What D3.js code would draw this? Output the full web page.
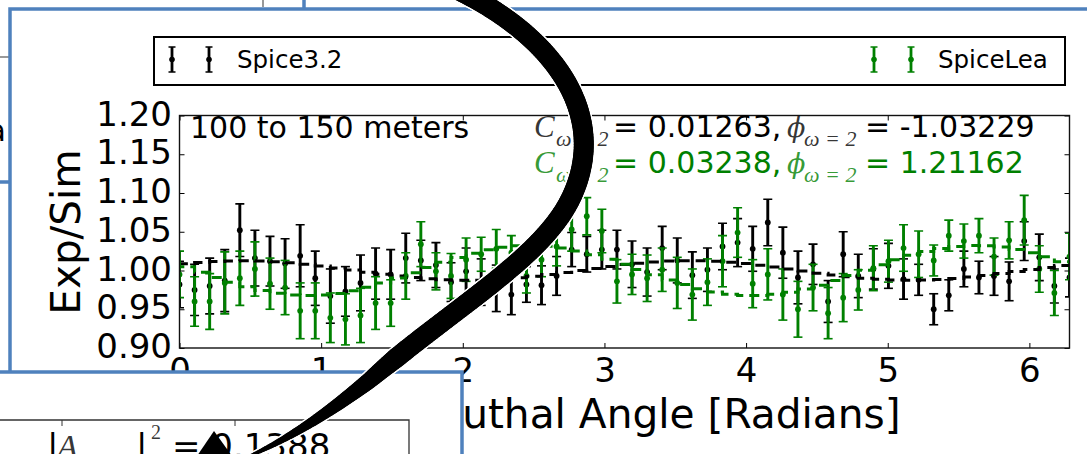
<!DOCTYPE html>
<html><head><meta charset="utf-8">
<script src="https://cdn.jsdelivr.net/npm/d3@7"></script>
<style>body{margin:0;background:#fff;overflow:hidden} svg{display:block}</style>
</head><body>
<svg id="c" width="1087" height="454"></svg>
<script>
// ---------------- data ----------------
const angles = [0.0000,0.1065,0.2130,0.3195,0.4259,0.5324,0.6389,0.7454,0.8519,0.9584,
  1.0649,1.1714,1.2779,1.3843,1.4908,1.5973,1.7038,1.8103,1.9168,2.0233,
  2.1298,2.2363,2.3428,2.4492,2.5557,2.6622,2.7687,2.8752,2.9817,3.0882,
  3.1947,3.3012,3.4077,3.5141,3.6206,3.7271,3.8336,3.9401,4.0466,4.1531,
  4.2596,4.3661,4.4726,4.5790,4.6855,4.7920,4.8985,5.0050,5.1115,5.2180,
  5.3245,5.4310,5.5375,5.6439,5.7504,5.8569,5.9634,6.0699,6.1764,6.2832];
const spice32 = [0.982,0.975,0.980,0.987,1.052,1.016,1.012,1.009,1.019,0.990,
  0.967,0.973,0.984,0.996,0.995,1.016,1.013,1.007,0.985,0.999,
  0.985,0.977,0.969,0.982,0.981,0.993,1.027,1.021,1.027,1.027,
  1.008,0.998,1.029,1.013,0.994,1.001,1.031,1.036,1.028,1.062,
  1.023,0.991,1.008,0.960,1.021,0.993,1.002,1.006,0.989,0.988,
  0.950,0.968,1.002,0.991,0.993,0.986,1.038,1.017,0.980,0.991];
const spice32Err = [0.030,0.033,0.036,0.040,0.034,0.036,0.032,0.032,0.040,0.035,
  0.035,0.032,0.036,0.033,0.032,0.032,0.026,0.029,0.025,0.030,
  0.030,0.030,0.026,0.023,0.025,0.025,0.022,0.023,0.025,0.025,
  0.030,0.031,0.028,0.029,0.030,0.028,0.030,0.031,0.029,0.030,
  0.033,0.034,0.026,0.027,0.029,0.028,0.026,0.029,0.026,0.020,
  0.020,0.020,0.023,0.021,0.025,0.025,0.025,0.030,0.022,0.025];
const spiceLea = [0.995,0.960,0.960,0.984,0.990,1.002,0.983,0.978,0.948,0.948,
  0.939,0.937,0.942,0.958,0.958,0.993,1.034,0.999,0.993,1.014,
  1.021,1.028,1.023,0.993,1.014,1.031,1.053,1.070,1.051,0.986,
  0.995,0.990,1.001,0.984,0.969,0.985,1.012,1.049,0.983,0.995,
  0.969,0.950,0.978,0.945,0.965,0.975,1.003,1.012,1.029,1.021,
  1.013,1.045,1.038,1.045,1.018,1.039,1.065,1.002,0.971,1.018];
const spiceLeaErr = [0.030,0.032,0.036,0.040,0.035,0.035,0.033,0.035,0.036,0.036,
  0.032,0.033,0.035,0.034,0.030,0.030,0.029,0.024,0.029,0.028,
  0.022,0.025,0.022,0.022,0.022,0.025,0.028,0.024,0.028,0.028,
  0.026,0.030,0.028,0.033,0.033,0.030,0.033,0.032,0.031,0.033,
  0.033,0.036,0.030,0.033,0.031,0.026,0.029,0.027,0.030,0.030,
  0.020,0.020,0.022,0.022,0.024,0.024,0.032,0.030,0.029,0.030];
const fit32 = [1.0065,1.0086,1.0104,1.0117,1.0124,1.0126,1.0123,1.0113,1.0099,1.0080,
  1.0058,1.0032,1.0006,0.9979,0.9953,0.9930,0.9909,0.9892,0.9881,0.9875,
  0.9874,0.9879,0.9890,0.9906,0.9926,0.9949,0.9974,1.0001,1.0027,1.0053,
  1.0076,1.0095,1.0111,1.0121,1.0126,1.0125,1.0119,1.0107,1.0090,1.0069,
  1.0045,1.0019,0.9993,0.9966,0.9941,0.9919,0.9900,0.9886,0.9877,0.9874,
  0.9876,0.9884,0.9897,0.9915,0.9936,0.9961,0.9987,1.0014,1.0040,1.0065];
const fitLea = [1.0114,1.0047,0.9978,0.9911,0.9847,0.9790,0.9742,0.9707,0.9684,0.9676,
  0.9683,0.9704,0.9739,0.9784,0.9839,0.9902,0.9970,1.0039,1.0106,1.0168,
  1.0223,1.0267,1.0299,1.0319,1.0324,1.0314,1.0289,1.0252,1.0203,1.0145,
  1.0081,1.0013,0.9944,0.9878,0.9818,0.9765,0.9723,0.9694,0.9678,0.9678,
  0.9692,0.9720,0.9760,0.9811,0.9870,0.9935,1.0004,1.0073,1.0138,1.0196,
  1.0245,1.0285,1.0311,1.0323,1.0320,1.0303,1.0272,1.0229,1.0176,1.0114];
const xTicks = [0,1,2,3,4,5,6];
const yTicks = [0.90,0.95,1.00,1.05,1.10,1.15,1.20];
const seriesNames = ["Spice3.2","SpiceLea"];
const seriesColors = ["#000000","#008000"];
const rangeLabel = "100 to 150 meters";
const fitC = ["0.01263","0.03238"];
const fitPhi = ["-1.03229","1.21162"];
const xLabel = "Azimuthal Angle [Radians]";
const yLabel = "Exp/Sim";
const boxValue = "0.1388";

// ---------------- drawing ----------------
const svg = d3.select("#c");
const BLUE = "#4f81bd";
const SANS = "'DejaVu Sans', sans-serif";
const SERIF = "'DejaVu Serif', 'Liberation Serif', serif";

// fragments of panels behind
svg.append("line").attr("x1",263).attr("x2",263).attr("y1",0).attr("y2",7).attr("stroke","#555").attr("stroke-width",1.2);
svg.append("line").attr("x1",304).attr("x2",304).attr("y1",0).attr("y2",10).attr("stroke",BLUE).attr("stroke-width",3.5);
svg.append("line").attr("x1",0).attr("x2",10).attr("y1",57).attr("y2",57).attr("stroke","#555").attr("stroke-width",1.2);
svg.append("line").attr("x1",0).attr("x2",10).attr("y1",182).attr("y2",182).attr("stroke",BLUE).attr("stroke-width",3.5);
svg.append("text").attr("x",6).attr("y",141).attr("text-anchor","end").attr("font-family",SANS).attr("font-size",30).text("a");

// main panel box
svg.append("rect").attr("x",10).attr("y",9).attr("width",1100).attr("height",470)
  .attr("fill","#fff").attr("stroke",BLUE).attr("stroke-width",3.5);

const X0 = 179.5, X1 = 1069.5, Y0 = 348, Y1 = 115.5;
const x = d3.scaleLinear().domain([0, 2*Math.PI]).range([X0, X1]);
const y = d3.scaleLinear().domain([0.90, 1.20]).range([Y0, Y1]);

svg.append("defs").append("clipPath").attr("id","clip")
  .append("rect").attr("x",X0).attr("y",Y1).attr("width",X1-X0).attr("height",Y0-Y1);

const plot = svg.append("g").attr("clip-path","url(#clip)");

function drawErr(vals, errs, color) {
  const recs = angles.map((a,i)=>({a, v: vals[i], e: errs[i]}));
  const g = plot.append("g");
  g.selectAll("line.bar").data(recs).join("line").attr("class","bar")
    .attr("x1",d=>x(d.a)).attr("x2",d=>x(d.a))
    .attr("y1",d=>y(d.v-d.e)).attr("y2",d=>y(d.v+d.e))
    .attr("stroke",color).attr("stroke-width",2.9);
  ["lo","hi"].forEach(k=>{
    g.selectAll("line.cap"+k).data(recs).join("line").attr("class","cap"+k)
      .attr("x1",d=>x(d.a)-4.5).attr("x2",d=>x(d.a)+4.5)
      .attr("y1",d=>y(k==="lo"?d.v-d.e:d.v+d.e)).attr("y2",d=>y(k==="lo"?d.v-d.e:d.v+d.e))
      .attr("stroke",color).attr("stroke-width",1.6);
  });
  g.selectAll("circle").data(recs).join("circle")
    .attr("cx",d=>x(d.a)).attr("cy",d=>y(d.v)).attr("r",2.9).attr("fill",color);
}
function drawFit(vals, color) {
  const line = d3.line().x((d,i)=>x(angles[i])).y(d=>y(d)).curve(d3.curveStepBefore);
  plot.append("path").datum(vals).attr("d",line).attr("fill","none")
    .attr("stroke",color).attr("stroke-width",3).attr("stroke-dasharray","10,6");
}
drawErr(spice32, spice32Err, seriesColors[0]);
drawErr(spiceLea, spiceLeaErr, seriesColors[1]);
drawFit(fit32, seriesColors[0]);
drawFit(fitLea, seriesColors[1]);

// axes
const axL = svg.append("g").attr("transform",`translate(${X0},0)`)
  .call(d3.axisLeft(y).tickValues(yTicks).tickSize(-5).tickSizeOuter(0).tickPadding(7.5).tickFormat(d3.format(".2f")));
const axR = svg.append("g").attr("transform",`translate(${X1},0)`)
  .call(d3.axisRight(y).tickValues(yTicks).tickSize(-5).tickSizeOuter(0).tickFormat(""));
const axB = svg.append("g").attr("transform",`translate(0,${Y0})`)
  .call(d3.axisBottom(x).tickValues(xTicks).tickSize(-5).tickSizeOuter(0).tickPadding(10).tickFormat(d3.format("d")));
const axT = svg.append("g").attr("transform",`translate(0,${Y1})`)
  .call(d3.axisTop(x).tickValues(xTicks).tickSize(-5).tickSizeOuter(0).tickFormat(""));
[axL,axR,axB,axT].forEach(a=>{
  a.select(".domain").remove();
  a.selectAll(".tick line").attr("stroke","#000").attr("stroke-width",1);
  a.selectAll("text").attr("font-family",SANS).attr("font-size",34).attr("fill","#000");
});
axL.selectAll("text").attr("dy","0.28em");
svg.append("rect").attr("x",X0).attr("y",Y1).attr("width",X1-X0).attr("height",Y0-Y1)
  .attr("fill","none").attr("stroke","#111").attr("stroke-width",1.4);

// axis labels
svg.append("text").attr("x",362).attr("y",428).attr("font-family",SANS).attr("font-size",40.7).text(xLabel);
svg.append("text").attr("transform","translate(80,232) rotate(-90)").attr("text-anchor","middle")
  .attr("font-family",SANS).attr("font-size",40.5).text(yLabel);

// in-plot annotations
svg.append("text").attr("x",190).attr("y",138).attr("font-family",SANS).attr("font-size",30).text(rangeLabel);
[0,1].forEach(k=>{
  const base = k===0 ? 137 : 173;
  const col = seriesColors[k];
  const g = svg.append("g").attr("fill",col);
  g.append("text").attr("x",534).attr("y",base).attr("font-family","'Liberation Serif', serif").attr("font-style","italic").attr("font-size",31).attr("fill-opacity",0.8).text("C");
  g.append("text").attr("x",556).attr("y",base+9).attr("font-family","'Liberation Serif', serif").attr("font-style","italic").attr("font-size",22).attr("fill-opacity",0.8).text("ω = 2");
  g.append("text").attr("x",613).attr("y",base).attr("font-family",SANS).attr("font-size",30).text("= " + fitC[k] + ",");
  g.append("text").attr("x",787).attr("y",base).attr("font-family",SERIF).attr("font-style","italic").attr("font-size",27).attr("fill-opacity",0.8).text("ϕ");
  g.append("text").attr("x",804).attr("y",base+9).attr("font-family","'Liberation Serif', serif").attr("font-style","italic").attr("font-size",22).attr("fill-opacity",0.8).text("ω = 2");
  g.append("text").attr("x",865).attr("y",base).attr("font-family",SANS).attr("font-size",30).text("= " + fitPhi[k]);
});

// legend
svg.append("rect").attr("x",154).attr("y",37).attr("width",911).attr("height",48)
  .attr("fill","#fff").attr("stroke","#000").attr("stroke-width",2);
const legendItems = [
  {name: seriesNames[0], color: seriesColors[0], gx: [172,209], tx: 237},
  {name: seriesNames[1], color: seriesColors[1], gx: [874,911], tx: 938}
];
legendItems.forEach(it=>{
  const g = svg.append("g");
  it.gx.forEach(gx=>{
    g.append("line").attr("x1",gx).attr("x2",gx).attr("y1",47).attr("y2",72).attr("stroke",it.color).attr("stroke-width",2.8);
    g.append("line").attr("x1",gx-3.5).attr("x2",gx+3.5).attr("y1",47).attr("y2",47).attr("stroke",it.color).attr("stroke-width",1.5);
    g.append("line").attr("x1",gx-3.5).attr("x2",gx+3.5).attr("y1",72).attr("y2",72).attr("stroke",it.color).attr("stroke-width",1.5);
    g.append("circle").attr("cx",gx).attr("cy",59.5).attr("r",2.8).attr("fill",it.color);
  });
  g.append("text").attr("x",it.tx).attr("y",68).attr("font-family",SANS).attr("font-size",24.5).attr("fill","#000").text(it.name);
});

// lower-left overlapping panel
svg.append("rect").attr("x",-10).attr("y",372).attr("width",472).attr("height",100)
  .attr("fill","#fff").attr("stroke",BLUE).attr("stroke-width",3.5);
svg.append("path").attr("d","M-5,420 H409 V460").attr("fill","none").attr("stroke","#333").attr("stroke-width",1.3);
[62,235].forEach(tx=>svg.append("line").attr("x1",tx).attr("x2",tx).attr("y1",420).attr("y2",426).attr("stroke","#333").attr("stroke-width",1));
const bx = svg.append("g").attr("fill","#000");
bx.append("text").attr("x",47).attr("y",458).attr("font-family",SANS).attr("font-size",34).text("|");
bx.append("text").attr("x",57).attr("y",458).attr("font-family","'Liberation Serif', serif").attr("font-style","italic").attr("font-size",34).attr("fill-opacity",0.8).text("A");
bx.append("text").attr("x",136).attr("y",458).attr("font-family",SANS).attr("font-size",34).text("|");
bx.append("text").attr("x",151).attr("y",439).attr("font-family","'Liberation Serif', serif").attr("font-size",20).attr("fill-opacity",0.8).text("2");
bx.append("text").attr("x",172).attr("y",458).attr("font-family",SANS).attr("font-size",34).text("= " + boxValue);

// hand-drawn arrow on top
const arrowD = "M458,-10 C560,40 610,120 570,200 C540,260 450,310 370,380 C322,418 285,440 252,455";
const tmp = svg.append("path").attr("d",arrowD).attr("fill","none").attr("stroke","none");
const L = tmp.node().getTotalLength();
const N = 220;
const pts = d3.range(N+1).map(i=>{const p = tmp.node().getPointAtLength(L*i/N); return [p.x,p.y,i/N];});
const wOf = s => s < 0.74 ? 20 : 20 - (s-0.74)/0.26*17;
const segs = d3.range(N).map(i=>({a:pts[i], b:pts[i+1], w:wOf(pts[i][2])}));
const ag = svg.append("g");
ag.selectAll("line.halo").data(segs).join("line").attr("class","halo")
  .attr("x1",d=>d.a[0]).attr("y1",d=>d.a[1]).attr("x2",d=>d.b[0]).attr("y2",d=>d.b[1])
  .attr("stroke","#fff").attr("stroke-width",d=>d.w+3).attr("stroke-linecap","round");
ag.selectAll("line.core").data(segs).join("line").attr("class","core")
  .attr("x1",d=>d.a[0]).attr("y1",d=>d.a[1]).attr("x2",d=>d.b[0]).attr("y2",d=>d.b[1])
  .attr("stroke","#000").attr("stroke-width",d=>d.w).attr("stroke-linecap","round");
ag.append("path").attr("d","M214,431 L197,456 L232,456 Z").attr("fill","#000");
</script>
</body></html>
